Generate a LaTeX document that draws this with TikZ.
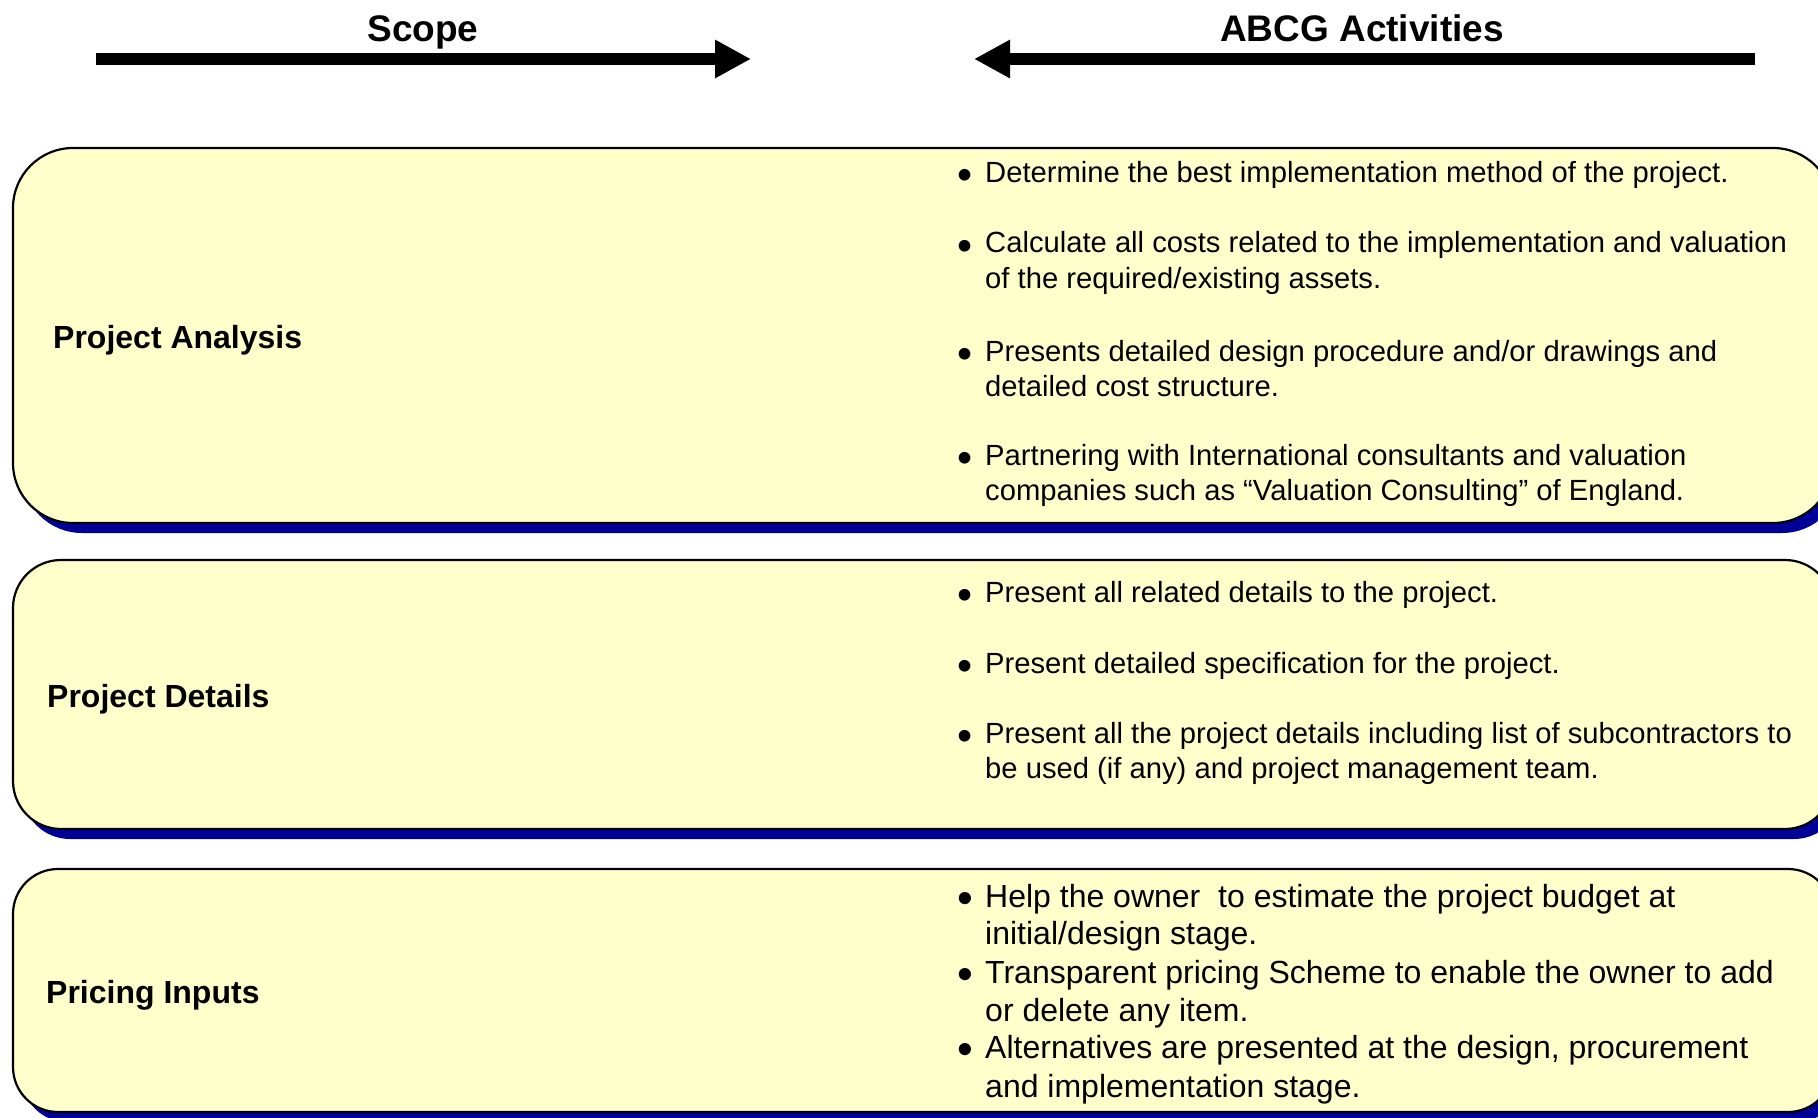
\documentclass[tikz,border=0pt]{standalone}
\usepackage{fontspec}
\setmainfont{Liberation Sans}
\usetikzlibrary{arrows.meta,shadows}
\definecolor{boxfill}{HTML}{FFFFCC}
\definecolor{shadowblue}{HTML}{000099}
\begin{document}
\begin{tikzpicture}[x=1pt,y=-1pt,
  panel/.style={draw=black, line width=2.2pt, fill=boxfill, inner sep=0pt,
    minimum width=1820pt,
    drop shadow={shadow xshift=9pt, shadow yshift=-10pt, fill=shadowblue, opacity=1}},
  heading/.style={anchor=base, inner sep=0pt, font=\fontsize{37}{44}\selectfont\bfseries},
  label/.style={anchor=base west, inner sep=0pt, font=\fontsize{32}{38}\selectfont\bfseries},
  bul/.style={anchor=base, inner sep=0pt, font=\fontsize{43}{44}\selectfont},
  txt/.style={anchor=base west, inner sep=0pt, font=\fontsize{29.2}{35}\selectfont},
  bulB/.style={anchor=base, inner sep=0pt, font=\fontsize{45}{46}\selectfont},
  txtB/.style={anchor=base west, inner sep=0pt, font=\fontsize{32}{38}\selectfont},
  bigarrow/.style={line width=12pt, -{Triangle[length=36pt,width=36pt]}}]
\useasboundingbox (0,0) rectangle (1818,1118);
\clip (0,0) rectangle (1818,1118);

% headings and arrows
\node[heading] (hs) at (423,42) {Scope};
\node[heading] (ha) at (1362,42) {ABCG Activities};
\coordinate (s1) at (96,59);
\coordinate (s2) at (751,59);
\coordinate (a1) at (1755,59);
\coordinate (a2) at (974,59);
\draw[bigarrow] (s1) -- (s2);
\draw[bigarrow] (a1) -- (a2);

% panels
\node[panel, rounded corners=60pt, minimum height=375pt] (p1) at (923,335.5) {};
\node[panel, rounded corners=48pt, minimum height=269pt] (p2) at (923,694.5) {};
\node[panel, rounded corners=45pt, minimum height=243pt] (p3) at (923,990.5) {};

% labels
\node[label] (l1) at (53,348) {Project Analysis};
\node[label] (l2) at (47,707) {Project Details};
\node[label] (l3) at (46,1003) {Pricing Inputs};

% panel 1 bullets
\node[bul] (b11) at (965,190) {•};
\node[txt] (t11) at (985,183) {Determine the best implementation method of the project.};
\node[bul] (b12) at (965,260) {•};
\node[txt] (t12) at (985,253) {Calculate all costs related to the implementation and valuation};
\node[txt] (t12b) at (985,288) {of the required/existing assets.};
\node[bul] (b13) at (965,368) {•};
\node[txt] (t13) at (985,361) {Presents detailed design procedure and/or drawings and};
\node[txt] (t13b) at (985,396) {detailed cost structure.};
\node[bul] (b14) at (965,472) {•};
\node[txt] (t14) at (985,465) {Partnering with International consultants and valuation};
\node[txt] (t14b) at (985,500) {companies such as “Valuation Consulting” of England.};

% panel 2 bullets
\node[bul] (b21) at (965,609) {•};
\node[txt] (t21) at (985,602) {Present all related details to the project.};
\node[bul] (b22) at (965,680) {•};
\node[txt] (t22) at (985,673) {Present detailed specification for the project.};
\node[bul] (b23) at (965,750) {•};
\node[txt] (t23) at (985,743) {Present all the project details including list of subcontractors to};
\node[txt] (t23b) at (985,778) {be used (if any) and project management team.};

% panel 3 bullets
\node[bulB] (b31) at (965,913) {•};
\node[txtB] (t31) at (985,907) {Help the owner\ \ to estimate the project budget at};
\node[txtB] (t31b) at (985,944) {initial/design stage.};
\node[bulB] (b32) at (965,989) {•};
\node[txtB] (t32) at (985,983) {Transparent pricing Scheme to enable the owner to add};
\node[txtB] (t32b) at (985,1021) {or delete any item.};
\node[bulB] (b33) at (965,1064) {•};
\node[txtB] (t33) at (985,1058) {Alternatives are presented at the design, procurement};
\node[txtB] (t33b) at (985,1097) {and implementation stage.};
\end{tikzpicture}
\end{document}
